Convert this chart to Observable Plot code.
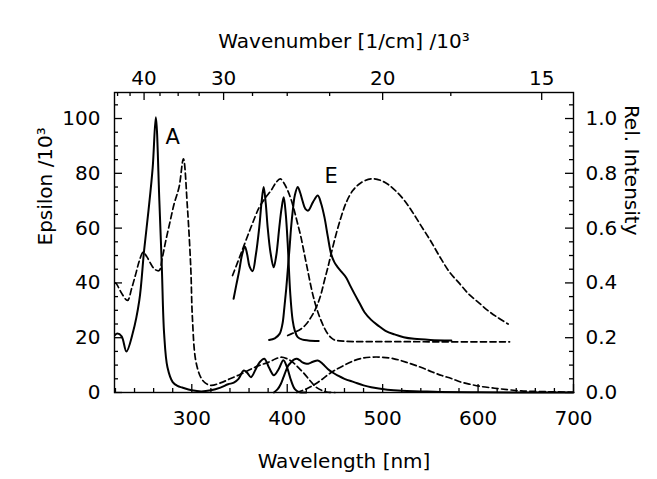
<!DOCTYPE html>
<html><head><meta charset="utf-8">
<script src="https://cdn.jsdelivr.net/npm/d3@7"></script>
<script src="https://cdn.jsdelivr.net/npm/@observablehq/plot@0.6"></script>
<style>body{margin:0;background:#fff}#chart{width:657px;height:479px}</style>
</head><body><div id="chart"></div>
<script>
// ---- Absorption, left axis (Epsilon / 10^3) ----
const wlAbsS = [219.5, 222, 226.5, 231.5, 238, 245, 250, 254.5, 259, 262.3, 266, 268.6, 271, 274.5, 280, 285, 290, 300, 310, 320, 330, 338, 344, 349, 354.5, 358, 362, 367, 371, 376, 381, 386, 391, 396, 400, 404, 408, 412, 420];
const absS   = [21, 21.5, 20.5, 15, 21.5, 33.6, 51.8, 66, 82, 100.5, 70, 45.7, 21.5, 9.2, 3.8, 2.4, 1.8, 0.8, 0.4, 0.8, 1.8, 3, 3.6, 5, 8, 7.2, 5.6, 8.5, 11, 12.3, 9, 6.3, 8.5, 11.8, 9, 4.4, 1.2, 0.2, 0];

const wlAbsD = [219.5, 221, 226, 232.6, 237, 241.3, 245, 249, 253, 257, 261, 265.8, 269, 272.8, 277, 281.5, 286.7, 291.2, 295.4, 298.9, 300.6, 304.1, 309.3, 314, 320, 330, 340, 350, 360, 370, 380, 388, 393.5, 400, 406, 412, 418, 424, 430, 436, 443, 450];
const absD   = [40, 39.7, 36.5, 33.6, 38, 43.3, 48, 51.2, 49.5, 47, 45, 44.5, 49, 55.5, 62, 68.9, 75, 85.3, 67.6, 45.7, 27.5, 11.7, 5.6, 3.5, 2.6, 3.5, 5, 6.5, 8.2, 9.8, 11, 12.3, 12.9, 12.3, 11, 9, 6.8, 4.3, 2, 0.8, 0.1, 0];

// ---- Emission, right axis (Rel. Intensity) ----
const wlEmS = [386, 390, 393.4, 396, 398.7, 401, 404, 407, 410, 413, 416, 419, 422, 427, 432, 437, 442.5, 448, 453, 460, 470, 480, 488, 505, 520, 540, 560, 600, 650, 700];
const emS   = [0, 0.012, 0.032, 0.055, 0.08, 0.098, 0.11, 0.12, 0.123, 0.118, 0.11, 0.106, 0.105, 0.112, 0.117, 0.105, 0.086, 0.072, 0.062, 0.05, 0.038, 0.026, 0.019, 0.01, 0.006, 0.004, 0.002, 0.001, 0, 0];

const wlEmD = [410, 420, 428, 435, 442, 449.4, 460, 470.5, 480, 488, 498, 512, 525, 540, 552, 562, 572, 582, 593, 603, 614, 624, 645, 670, 700];
const emD   = [0, 0.013, 0.028, 0.044, 0.063, 0.08, 0.10, 0.117, 0.126, 0.129, 0.129, 0.123, 0.11, 0.092, 0.075, 0.062, 0.051, 0.038, 0.029, 0.022, 0.017, 0.013, 0.006, 0.003, 0.001];

// ---- Expanded long-wavelength region (offset, right axis units) ----
const wlAbsSUp = [343.8, 346.5, 349.7, 352.5, 355.6, 358, 360.5, 363.7, 367, 370.7, 373, 375.3, 377.5, 379.5, 382.5, 385.8, 388.5, 391.7, 394, 396.3, 398.5, 400.5, 403.2, 405.7, 408, 411, 416, 422, 433];
const absSUp   = [0.342, 0.39, 0.445, 0.50, 0.533, 0.505, 0.46, 0.443, 0.50, 0.603, 0.69, 0.75, 0.69, 0.603, 0.51, 0.457, 0.50, 0.603, 0.67, 0.713, 0.65, 0.543, 0.36, 0.263, 0.225, 0.202, 0.193, 0.19, 0.188];

const wlAbsDUp = [342.7, 351.4, 362, 370.7, 377, 383, 388, 392.7, 396.5, 400.5, 404, 407.4, 411, 414.4, 418, 421.5, 425, 428.4, 432, 435.4, 439, 442.5, 446, 449.4, 460, 500, 560, 633];
const absDUp   = [0.427, 0.506, 0.603, 0.676, 0.71, 0.737, 0.765, 0.78, 0.765, 0.737, 0.705, 0.664, 0.615, 0.567, 0.505, 0.445, 0.385, 0.336, 0.295, 0.263, 0.235, 0.214, 0.20, 0.192, 0.187, 0.186, 0.185, 0.185];

const wlEmSUp = [381, 387, 392, 395, 397, 399, 400.8, 402.5, 404, 405.7, 408, 411, 413.5, 416, 419, 422, 427, 432, 435.5, 439, 442.5, 446, 449.5, 453, 457, 461.7, 466, 470.5, 476, 481, 488, 495, 503, 512.4, 522, 533, 550, 572];
const emSUp   = [0.192, 0.198, 0.214, 0.25, 0.31, 0.38, 0.457, 0.53, 0.60, 0.66, 0.72, 0.75, 0.73, 0.70, 0.67, 0.664, 0.695, 0.719, 0.69, 0.64, 0.57, 0.506, 0.475, 0.457, 0.44, 0.42, 0.39, 0.36, 0.325, 0.293, 0.265, 0.245, 0.225, 0.212, 0.202, 0.196, 0.192, 0.19];

const wlEmDUp = [400.5, 407, 414.4, 420, 425, 429, 432, 435.5, 439, 442.5, 446, 451, 456.4, 462, 468.7, 477, 488, 498, 505.5, 514, 523, 531, 540, 550, 560, 570, 580, 590, 600, 610, 620, 631.5];
const emDUp   = [0.208, 0.218, 0.232, 0.25, 0.275, 0.30, 0.324, 0.36, 0.409, 0.455, 0.506, 0.575, 0.64, 0.695, 0.737, 0.765, 0.78, 0.774, 0.76, 0.735, 0.70, 0.66, 0.61, 0.555, 0.495, 0.44, 0.40, 0.36, 0.33, 0.30, 0.275, 0.25];

// ---- Ticks and labels ----
const wlMajor = [300, 400, 500, 600, 700];
const wlMinor = [220, 240, 260, 280, 320, 340, 360, 380, 420, 440, 460, 480, 520, 540, 560, 580, 620, 640, 660, 680];
const epsMajor = [0, 20, 40, 60, 80, 100];
const epsMinor = [5, 10, 15, 25, 30, 35, 45, 50, 55, 65, 70, 75, 85, 90, 95, 105];
const relMajor = [0, 0.2, 0.4, 0.6, 0.8, 1.0];
const relMinor = [0.05, 0.1, 0.15, 0.25, 0.3, 0.35, 0.45, 0.5, 0.55, 0.65, 0.7, 0.75, 0.85, 0.9, 0.95, 1.05];
const wnMajor = [40, 30, 20, 15];
const wnMinor = [45, 42.5, 37.5, 35, 32.5, 27.5, 25, 22.5, 17.5];
const annotText = ["A", "E"];
const annotWl = [280, 446];
const annotEps = [93, 79];

const rows = (xs, ys) => xs.map((x, i) => ({x, y: ys[i]}));

const W = 657, H = 479, mL = 114, mR = 84, mT = 92, mB = 87;
const frameW = W - mL - mR, frameH = H - mT - mB;
const FONT = "DejaVu Sans";
const MAJ = 8, MIN = 4;

const solid = {x: "x", stroke: "black", strokeWidth: 2, curve: "catmull-rom"};
const dashed = {x: "x", stroke: "black", strokeWidth: 1.7, strokeDasharray: "6,3.5", curve: "catmull-rom"};
const epsY = {y: "y"};
const relY = {y: d => d.y * 100};

const chart = Plot.plot({
  width: W, height: H,
  marginLeft: mL, marginRight: mR, marginTop: mT, marginBottom: mB,
  style: {fontFamily: FONT, fontSize: "20px", background: "white", color: "black", overflow: "visible"},
  x: {domain: [219, 700]},
  y: {domain: [0, 109.5]},
  marks: [
    // data
    Plot.line(rows(wlAbsS, absS), {...solid, ...epsY}),
    Plot.line(rows(wlAbsD, absD), {...dashed, ...epsY}),
    Plot.line(rows(wlEmS, emS), {...solid, ...relY}),
    Plot.line(rows(wlEmD, emD), {...dashed, ...relY}),
    Plot.line(rows(wlAbsSUp, absSUp), {...solid, ...relY}),
    Plot.line(rows(wlAbsDUp, absDUp), {...dashed, ...relY}),
    Plot.line(rows(wlEmSUp, emSUp), {...solid, ...relY}),
    Plot.line(rows(wlEmDUp, emDUp), {...dashed, ...relY}),
    // frame
    Plot.frame({stroke: "black", strokeWidth: 1.4}),
    // inward ticks
    Plot.tickY(epsMajor, {y: d => d, insetRight: frameW - MAJ, stroke: "black", strokeWidth: 1.3}),
    Plot.tickY(epsMinor, {y: d => d, insetRight: frameW - MIN, stroke: "black", strokeWidth: 1.3}),
    Plot.tickY(relMajor, {y: d => d * 100, insetLeft: frameW - MAJ, stroke: "black", strokeWidth: 1.3}),
    Plot.tickY(relMinor, {y: d => d * 100, insetLeft: frameW - MIN, stroke: "black", strokeWidth: 1.3}),
    Plot.tickX(wlMajor, {x: d => d, insetTop: frameH - MAJ, stroke: "black", strokeWidth: 1.3}),
    Plot.tickX(wlMinor, {x: d => d, insetTop: frameH - MIN, stroke: "black", strokeWidth: 1.3}),
    Plot.tickX(wnMajor, {x: w => 1e4 / w, insetBottom: frameH - MAJ, stroke: "black", strokeWidth: 1.3}),
    Plot.tickX(wnMinor, {x: w => 1e4 / w, insetBottom: frameH - MIN, stroke: "black", strokeWidth: 1.3}),
    // axis labels
    Plot.axisX(wlMajor, {anchor: "bottom", tickSize: 0, tickPadding: 18, label: null, fontSize: 20}),
    Plot.axisX(wnMajor.map(w => 1e4 / w), {anchor: "top", tickSize: 0, tickPadding: 8, label: null, fontSize: 20,
      tickFormat: d => String(Math.round(1e4 / d))}),
    Plot.axisY(epsMajor, {anchor: "left", tickSize: 0, tickPadding: 14, label: null, fontSize: 20}),
    Plot.axisY(relMajor.map(r => r * 100), {anchor: "right", tickSize: 0, tickPadding: 12, label: null, fontSize: 20,
      tickFormat: d => (d / 100).toFixed(1)}),
    // titles
    Plot.text(["Wavelength [nm]"], {text: d => d, frameAnchor: "bottom", dy: 75, fontSize: 20}),
    Plot.text(["Wavenumber [1/cm] /10³"], {text: d => d, frameAnchor: "top", dy: -59, fontSize: 20}),
    Plot.text(["Epsilon /10³"], {text: d => d, frameAnchor: "left", dx: -69, dy: 3, rotate: -90, fontSize: 20}),
    Plot.text(["Rel. Intensity"], {text: d => d, frameAnchor: "right", dx: 58, dy: -7, rotate: 90, fontSize: 20}),
    // annotations
    Plot.text(annotText, {x: (d, i) => annotWl[i], y: (d, i) => annotEps[i], text: d => d, fontSize: 21})
  ]
});
document.getElementById("chart").appendChild(chart);
</script>
</body></html>
